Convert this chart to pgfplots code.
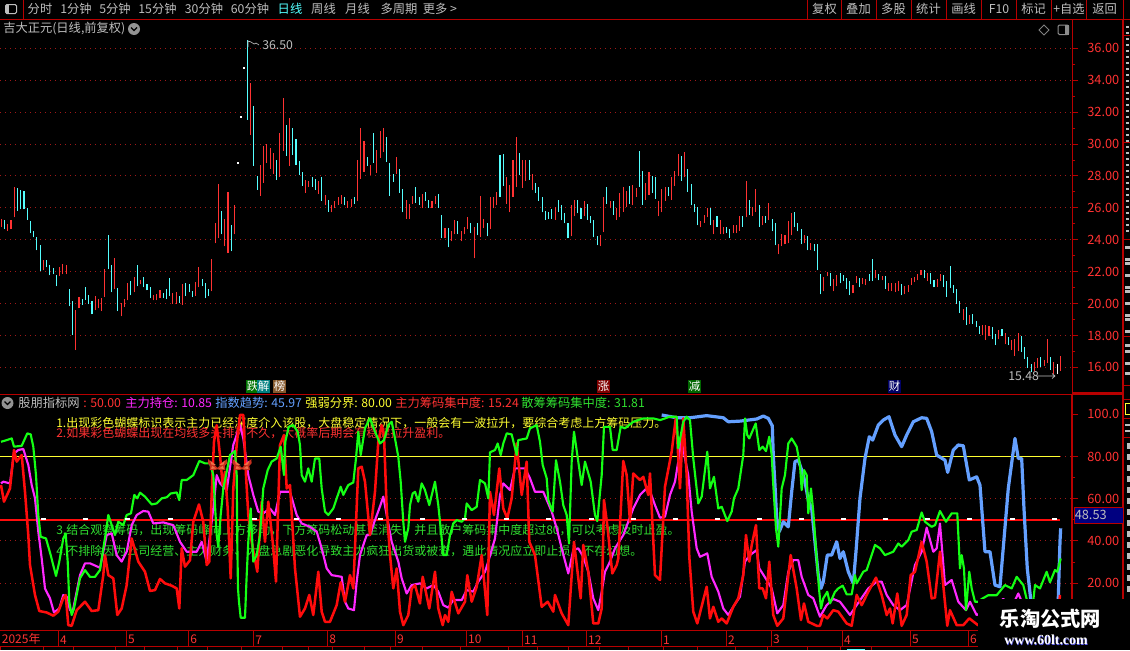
\documentclass[border=0pt]{standalone}
\usepackage{fontspec}
\usepackage{pgfplots}
\usepackage{pgfplotstable}
\pgfplotsset{compat=1.18}
\setmainfont{Noto Sans CJK SC}
\newfontfamily\logofont{Liberation Serif}

\definecolor{upred}{HTML}{FF3232}
\definecolor{chipred}{HTML}{FF0C0C}
\definecolor{downcyan}{HTML}{54FFFF}
\definecolor{axisred}{HTML}{B80000}
\definecolor{griddark}{HTML}{A01818}
\definecolor{txtgray}{HTML}{BEBEBE}
\definecolor{magline}{HTML}{FF28FF}
\definecolor{greenline}{HTML}{14FF14}
\definecolor{greentxt}{HTML}{30E030}
\definecolor{blueline}{HTML}{64A0FF}
\definecolor{yellowline}{HTML}{FFFF32}
\definecolor{wing}{HTML}{C8301E}
\definecolor{wingtip}{HTML}{F07048}

% c: 1 up, -1 down, 0 one-price day, 2 white bar
\pgfplotstableread{
c lo hi
1 24.77 25.33
-1 24.65 25.27
1 24.58 24.96
1 24.65 25.27
1 25.40 27.33
-1 25.83 27.27
-1 25.90 27.15
-1 25.90 27.08
-1 25.27 25.96
-1 24.40 25.20
-1 24.15 24.58
-1 23.33 24.15
-1 22.02 23.70
1 22.08 22.70
-1 22.27 22.70
-1 21.77 22.40
-1 21.83 22.20
-1 21.08 21.77
1 21.70 22.27
1 21.83 22.46
1 21.83 22.40
-1 19.83 20.90
-1 18.02 20.15
1 17.08 19.58
1 19.70 20.40
-1 19.90 20.27
-1 20.20 21.02
-1 19.96 20.52
-1 19.33 20.15
1 19.58 20.46
1 19.70 20.27
1 19.52 20.33
1 20.40 22.15
-1 22.15 24.27
-1 20.70 22.40
1 20.90 22.83
-1 19.52 20.96
1 19.20 20.02
1 19.77 20.27
1 20.20 21.27
-1 20.52 21.40
1 20.70 21.65
-1 21.08 22.40
1 21.20 21.46
-1 21.02 21.65
-1 20.83 21.20
-1 20.33 21.02
1 20.20 20.52
1 20.20 20.58
1 20.33 20.83
-1 20.33 20.65
-1 20.27 20.90
-1 20.46 21.58
1 19.96 20.65
1 19.96 20.70
-1 20.02 20.46
1 19.90 21.20
-1 20.46 21.27
-1 20.70 21.20
-1 20.40 20.77
1 20.46 21.33
1 21.02 22.27
-1 21.08 21.52
-1 20.33 21.27
-1 20.46 20.90
1 20.77 22.77
1 23.77 25.02
1 24.08 27.52
-1 24.33 25.83
1 23.58 25.33
1 23.20 27.02
-1 23.27 24.90
1 24.33 26.15
0 28.81 28.81
0 31.69 31.69
0 34.81 34.81
-1 31.52 36.50
1 30.58 33.81
-1 28.65 32.40
-1 27.15 28.02
1 26.77 28.71
1 27.58 29.90
1 28.81 30.02
1 28.46 29.75
1 28.15 29.46
-1 27.77 29.02
1 27.96 30.71
1 29.58 32.90
-1 29.27 31.21
1 28.65 31.65
-1 29.33 31.02
-1 28.71 30.33
-1 28.08 28.96
-1 27.40 28.27
1 26.96 27.77
1 27.33 27.71
-1 27.33 27.96
-1 27.15 27.83
1 26.90 27.71
-1 26.46 27.96
1 26.15 26.83
-1 25.77 26.52
1 25.71 26.20
1 26.02 26.46
1 26.20 26.71
1 26.27 26.83
-1 26.15 26.71
1 26.02 26.46
1 26.08 26.58
-1 26.27 26.71
1 26.40 29.02
1 27.83 31.02
1 28.27 30.20
-1 28.65 29.20
1 28.08 28.71
-1 28.83 30.71
1 28.20 29.65
1 29.15 30.83
1 29.52 31.02
-1 28.90 30.46
-1 26.77 28.83
-1 27.65 28.15
1 28.15 29.20
-1 26.96 28.46
-1 25.71 27.21
1 25.33 26.52
1 25.33 26.27
1 26.27 26.77
-1 26.33 27.33
-1 26.21 26.71
1 25.96 26.90
-1 26.46 27.02
-1 26.02 26.52
1 25.96 26.46
1 26.27 26.77
-1 26.02 26.90
-1 24.08 25.58
1 24.08 24.71
-1 23.52 24.71
1 23.90 24.58
1 24.33 25.21
-1 24.33 25.15
1 23.90 24.52
1 24.33 24.83
1 24.65 25.40
-1 24.40 25.08
1 22.83 24.83
-1 24.27 25.02
1 24.15 26.77
1 24.71 25.33
-1 24.21 25.08
1 24.65 26.65
1 25.96 26.71
1 26.15 27.02
-1 26.71 29.33
-1 27.40 29.40
1 26.27 27.96
1 25.71 27.46
1 26.71 29.02
1 27.33 30.46
-1 28.08 29.46
1 27.27 29.02
1 27.71 29.02
-1 27.77 29.02
1 27.15 28.15
-1 26.96 27.58
-1 26.46 27.33
-1 25.71 26.71
-1 25.27 25.83
-1 25.33 25.77
-1 25.33 25.90
1 25.27 26.08
-1 25.77 26.52
-1 25.21 26.15
-1 25.02 25.65
-1 24.08 25.08
1 24.21 26.21
1 25.46 26.52
-1 25.65 26.52
-1 25.33 25.96
1 25.46 26.40
-1 25.27 26.27
-1 25.02 25.52
-1 24.15 25.21
-1 23.65 24.21
1 23.58 24.27
1 24.46 26.65
-1 26.27 27.33
1 25.96 26.46
-1 25.58 26.46
1 25.27 26.02
1 25.40 26.96
1 25.77 27.33
1 26.08 27.08
-1 26.27 27.40
1 26.15 27.46
1 26.71 27.27
-1 27.33 29.58
-1 26.21 28.33
1 26.52 27.58
1 26.83 28.27
-1 26.96 28.02
-1 26.58 27.96
1 25.46 26.46
1 25.71 27.21
1 26.46 27.33
-1 26.77 27.33
1 26.52 27.96
1 27.40 28.33
1 28.02 29.40
-1 27.71 29.27
1 27.96 29.52
-1 27.02 28.46
-1 26.15 27.52
-1 25.71 26.27
-1 24.90 26.08
1 24.77 25.15
1 25.08 25.58
1 25.40 26.02
-1 24.90 25.96
1 24.33 25.27
-1 24.83 25.46
1 24.33 25.21
1 24.33 24.77
-1 24.40 24.83
-1 24.08 24.65
1 24.40 24.90
1 24.40 24.90
1 24.58 25.46
-1 24.83 25.52
1 25.40 27.71
-1 25.58 26.52
1 25.52 26.08
1 25.77 27.21
-1 24.83 26.21
1 24.90 25.46
-1 25.08 25.52
1 25.21 26.33
-1 24.52 25.33
-1 23.65 25.02
1 23.08 23.71
1 23.58 24.33
1 23.71 24.27
1 23.77 25.15
1 24.27 25.65
-1 24.83 25.71
-1 24.52 25.02
-1 23.71 24.65
1 23.77 24.27
-1 23.33 24.21
1 23.33 23.77
-1 23.27 23.71
-1 22.08 23.71
-1 20.58 21.83
1 20.77 21.65
1 21.71 21.96
-1 21.08 21.90
1 20.77 21.52
1 21.08 21.77
-1 21.27 21.90
-1 21.40 21.77
-1 20.90 21.58
-1 20.52 21.40
1 20.65 21.15
1 21.27 21.71
-1 21.02 21.58
1 21.21 21.58
1 21.15 21.52
-1 21.40 21.83
-1 21.40 22.77
1 21.58 22.08
-1 21.46 21.83
1 21.46 21.71
-1 20.90 21.71
1 20.77 21.27
1 20.77 21.27
1 20.71 21.27
1 20.77 21.40
-1 20.52 21.21
1 20.58 21.08
1 20.71 21.15
1 21.15 21.58
1 21.33 21.65
1 21.46 21.83
1 21.77 22.08
-1 21.58 22.08
1 21.40 21.90
-1 21.21 21.90
-1 21.02 21.46
1 21.02 21.52
1 21.40 21.83
-1 21.02 21.77
-1 20.40 21.40
-1 20.96 22.33
-1 20.65 21.15
-1 19.96 20.90
-1 19.40 20.15
1 18.96 19.65
-1 18.65 19.77
1 18.71 19.27
-1 18.71 19.33
-1 18.52 18.90
-1 18.08 18.58
1 18.00 18.65
1 17.71 18.65
1 17.96 18.58
-1 17.75 18.52
-1 17.40 18.08
1 17.75 18.33
-1 17.94 18.40
1 17.44 18.15
-1 17.40 17.88
1 17.10 17.69
1 16.71 17.75
1 17.00 18.15
-1 16.96 17.96
-1 16.52 17.27
-1 15.96 16.65
-1 15.69 16.20
1 15.75 16.33
1 15.96 16.58
-1 16.02 16.65
1 16.08 16.46
1 16.27 17.77
-1 15.83 16.65
1 15.58 16.33
2 15.58 16.20
1 15.77 16.71
}\candles

\newcommand\candlebars[2]{%
  \addplot[draw=none,no markers,forget plot,
    error bars/.cd,y dir=plus,y explicit,error mark=none,
    error bar style={draw=#2,line width=0.8pt}]
    table[x expr={\thisrow{c}==#1 ? \coordindex*3.2385+1.3 : nan},
      y=lo,y error plus expr=\thisrow{hi}-\thisrow{lo}] {\candles};
}

\newcommand\pp[2]{\pgfqpoint{#1pt}{#2pt}}
\pgfdeclareplotmark{butterfly}{%
  \pgfsetfillcolor{wing}%
  \pgfpathmoveto{\pp{0}{-2.5}}\pgfpathlineto{\pp{-7}{4.2}}\pgfpathlineto{\pp{-7.2}{1}}%
  \pgfpathlineto{\pp{-5.5}{-1}}\pgfpathlineto{\pp{-6}{-4.2}}\pgfpathlineto{\pp{-2}{-4}}%
  \pgfpathlineto{\pp{0}{-3.5}}\pgfpathlineto{\pp{2}{-4}}\pgfpathlineto{\pp{6}{-4.2}}%
  \pgfpathlineto{\pp{5.5}{-1}}\pgfpathlineto{\pp{7.2}{1}}\pgfpathlineto{\pp{7}{4.2}}%
  \pgfpathclose\pgfusepathqfill
  \pgfsetfillcolor{wingtip}%
  \pgfpathmoveto{\pp{-1}{-0.5}}\pgfpathlineto{\pp{-5.5}{3}}\pgfpathlineto{\pp{-4.5}{0}}\pgfpathclose
  \pgfpathmoveto{\pp{1}{-0.5}}\pgfpathlineto{\pp{5.5}{3}}\pgfpathlineto{\pp{4.5}{0}}\pgfpathclose
  \pgfpathmoveto{\pp{-1}{-3}}\pgfpathlineto{\pp{-4.8}{-3.2}}\pgfpathlineto{\pp{-4}{-1}}\pgfpathclose
  \pgfpathmoveto{\pp{1}{-3}}\pgfpathlineto{\pp{4.8}{-3.2}}\pgfpathlineto{\pp{4}{-1}}\pgfpathclose
  \pgfusepathqfill
}

\tikzset{
  t/.style={anchor=west,inner sep=0pt,font=\fontsize{9.2pt}{11pt}\selectfont},
  n/.style={anchor=west,inner sep=0pt,font=\fontsize{9pt}{11pt}\selectfont},
  c/.style={anchor=center,inner sep=0pt,text=txtgray,font=\fontsize{9.2pt}{11pt}\selectfont},
  badge/.style={anchor=center,inner sep=0pt,minimum width=9.6pt,minimum height=9.6pt,text=white,font=\fontsize{8.6pt}{9pt}\selectfont},
  lineplot/.style={line join=round,no markers,line width=#1},
  sep/.style={axisred,line width=0.75pt}
}
\pgfplotsset{
  panel/.style={
    scale only axis,
    xmin=0,xmax=1072.3,
    axis y line*=right,
    axis line style={axisred,line width=0.8pt},
    tick style={axisred,line width=0.75pt},
    tick align=outside,
    major tick length=4.5pt,minor tick length=2.25pt,
    ytick pos=right,
    ymajorgrids=true,
    grid style={griddark,line width=0.75pt,dash pattern=on 0.75pt off 3pt},
    yticklabel style={anchor=west,inner sep=0pt,xshift=6.6pt,text=upred,font=\fontsize{9.6pt}{11pt}\selectfont},
    clip=true,
  }
}

\begin{document}
\begin{tikzpicture}
\path[use as bounding box,fill=black] (0pt,0pt) rectangle (847.5pt,-487.5pt);

\begin{scope}[x=0.75pt,y=-0.75pt]
  % toolbar
  \draw[sep] (0,19.3)--(1130,19.3);
  \draw[sep] (23.5,0)--(23.5,19.3);
  \draw[txtgray,line width=0.75pt,rounded corners=1pt] (5.5,4.5) rectangle (16.5,13.5);
  \fill[txtgray] (5.5,4.5) rectangle (9,13.5);
  \node[c] at (40,9) {分时};
  \node[c] at (76,9) {1分钟};
  \node[c] at (115,9) {5分钟};
  \node[c] at (157.5,9) {15分钟};
  \node[c] at (204,9) {30分钟};
  \node[c] at (250,9) {60分钟};
  \node[c,text=downcyan] at (290,9) {日线};
  \node[c] at (323.5,9) {周线};
  \node[c] at (357.5,9) {月线};
  \node[c] at (399,9) {多周期};
  \node[c] at (440,9) {更多 >};
  \foreach \xp in {807.3,841.3,876.3,911.3,946.3,981.3,1016.3,1051.3,1086.3,1123}
    \draw[sep] (\xp,0)--(\xp,19.3);
  \node[c] at (824.5,9) {复权};
  \node[c] at (858.5,9) {叠加};
  \node[c] at (893.5,9) {多股};
  \node[c] at (928.5,9) {统计};
  \node[c] at (963.5,9) {画线};
  \node[c] at (999,9) {F10};
  \node[c] at (1033.5,9) {标记};
  \node[c] at (1069,9) {+自选};
  \node[c] at (1104.5,9) {返回};
  % upper panel heading
  \node[t,text=txtgray] at (3,29) {吉大正元(日线,前复权)};
  \fill[gray!85] (134,29) circle (6);
  \draw[black,line width=0.9pt] (131,27.5)--(134,30.5)--(137,27.5);
  \draw[gray,line width=0.6pt] (1044,25)--(1049,30)--(1044,35)--(1039,30)--cycle;
  \draw[gray!90,line width=0.75pt,rounded corners=1pt] (1058,25) rectangle (1068.5,34.5);
  \fill[gray!90] (1064.5,25) rectangle (1068.5,34.5);
  % lower panel heading
  \fill[gray!85] (7.5,403) circle (6);
  \draw[black,line width=0.9pt] (4.5,401.5)--(7.5,404.5)--(10.5,401.5);
  \node[t,text=txtgray] at (18,403) {股朋指标网};
  \node[t,text=upred] at (83,403) {: 50.00};
  \node[t,text=magline] at (125,403) {主力持仓: 10.85};
  \node[t,text=blueline] at (215,403) {指数趋势: 45.97};
  \node[t,text=yellowline] at (305,403) {强弱分界: 80.00};
  \node[t,text=upred] at (395,403) {主力筹码集中度: 15.24};
  \node[t,text=greentxt] at (521,403) {散筹筹码集中度: 31.81};
  % notes
  \node[n,text=yellowline] at (56,423) {1.出现彩色蝴蝶标识表示主力已经深度介入该股，大盘稳定情况下，一般会有一波拉升，要综合考虑上方筹码压力。};
  \node[n,text=upred] at (56,433) {2.如果彩色蝴蝶出现在均线多头排列不久，大概率后期会有稳健拉升盈利。};
  \node[n,text=greentxt] at (56,530) {3.结合观察筹码，出现筹码峰向上方移动，下方筹码松动甚至消失，并且散户筹码集中度超过80，可以考虑及时止盈。};
  \node[n,text=greentxt] at (56,551) {4.不排除因为公司经营、主力财务、大盘急剧恶化导致主力疯狂出货或被查，遇此情况应立即止损，不存幻想。};
  % event badges
  \node[badge,fill=green!45!black] at (252.5,386.5) {跌};
  \node[badge,fill=teal] at (263.5,386.5) {解};
  \node[badge,fill=brown!70!black] at (279.5,386.5) {榜};
  \node[badge,fill=red!50!black] at (603.5,386.5) {涨};
  \node[badge,fill=green!40!black] at (694.5,386.5) {减};
  \node[badge,fill=blue!40!black] at (894.5,386.5) {财};
\end{scope}

% price panel
\begin{axis}[panel,
  at={(0pt,-295.5pt)},anchor=south west,
  width=804.2pt,height=281.25pt,
  hide x axis,
  ymin=14.33,ymax=37.84,
  ytick={16,18,...,36},
  yticklabels={16.00,18.00,20.00,22.00,24.00,26.00,28.00,30.00,32.00,34.00,36.00},
  minor y tick num=1,
  unbounded coords=discard,
]
  \candlebars{1}{upred}
  \candlebars{-1}{downcyan}
  \candlebars{2}{white}
  \addplot[only marks,mark=square*,mark size=0.35pt,white,forget plot]
    table[x expr={\thisrow{c}==0 ? \coordindex*3.2385+1.3 : nan},y=lo] {\candles};
\end{axis}

% indicator panel
\begin{axis}[panel,
  at={(0pt,-472.9pt)},anchor=south west,
  width=804.2pt,height=177pt,
  axis x line*=bottom,
  xtick=\empty,
  minor xtick={18,36,76,93,110,143,160,206,224,240,271,290,308,345,362,378,413,431,449,484,502,540,558,604,622,640,678,710,744,756,789,807,825,860,878,895,928,946},
  ymin=-2.46,ymax=109.4,
  ytick={20,40,60,80},
  yticklabels={20.00,40.00,60.00,80.00},
  extra y ticks={100},
  extra y tick labels={100.0},
  extra y tick style={grid=none},
  minor y tick num=1,
]
  \addplot[yellowline,line width=1.05pt,forget plot] coordinates {(0,80) (1060,80)};
  \addplot[chipred,line width=1.05pt,forget plot] coordinates {(0,50) (1060,50)};

  % zhuli chicang
  \addplot[lineplot=1.6pt,magline] coordinates {
    (1,67.3)(3.3,68.1)(10,67.3)(14,81.5)(18.3,83.1)(23.3,83.6)(28.3,76)(31.7,66.5)(35,60.2)(38.3,44.4)(41.7,31.7)(45,17.5)
    (50,12.8)(54,6.1)(59.3,8)(63.3,14.4)(66.7,13.6)(70,7.2)(72.7,6.5)(76,14.4)(80,23.8)(85,29.4)(90,29.4)(100,27.3)(104,36.5)
    (106.7,42.8)(111.7,43.6)(116.7,33.3)(121.7,30.2)(126.7,34.9)(131.7,47.5)(136.7,52.3)(143.3,54.2)(148.3,53.9)(153.3,48.3)
    (163.3,48.8)(173.3,47.5)(180,39.6)(186.7,34.9)(196.7,34.9)(201.7,39.6)(206.7,30.2)(213.3,55.4)(216.7,71.2)(220,67.3)
    (226.7,64.1)(233.3,85.5)(240,94.9)(243.3,88.6)(248.3,71.2)(253.3,61.8)(258.3,53.9)(263.3,53.1)(270,55.4)(275,52.3)(280,63.3)
    (290,63.3)(296.7,52.3)(301.7,48.3)(310,46.7)(316.7,44.4)(321.7,36.5)(326.7,27)(331.7,23.8)(341.7,23)(345,11.2)(348.3,8)
    (354,7.2)(356.7,20.7)(360,33.3)(366.7,42.8)(370,42.8)(375,49.9)(379.3,55.4)(383.3,61)(386.7,52.3)(391.7,39.6)(398.3,30.2)
    (401.7,22.3)(406.7,15.1)(411.7,19.1)(420,19.9)(426.7,17.5)(433.3,19.1)(438.3,16)(443.3,9.6)(448.3,8.4)(453.3,12)(461.7,12)
    (466.7,16.7)(473.3,16)(478.3,20.7)(485,25.4)(488.3,30.2)(495,41.2)(500,61.8)(503.3,67.3)(510,64.1)(515,74.4)(525,74.4)
    (530,69.7)(535,63.3)(543.3,63.3)(551.7,53.9)(556.7,46)(561.7,36.5)(568.3,24.6)(573.3,35.7)(578.3,36.5)(583.3,32.5)(588.3,25.4)
    (593.3,12.8)(598.3,7.2)(601.7,15.9)(605,25.4)(610,30.2)(615,36.5)(623.3,42.8)(628.3,49.1)(633.3,55.4)(640,61.8)(648.3,65.7)
    (655,57)(660,51)(665,51.5)(670,61.8)(675,68.1)(678.3,77.6)(681.7,88.6)(685,79.1)(688.3,71.2)(691.7,53.9)(696.7,36.5)(700,32.5)
    (707.3,34.1)(711.7,23)(718.3,16)(723.3,8)(728.3,4.9)(733.3,8.8)(740,13.6)(745,30.2)(750,33.3)(756.7,35.7)(759.3,27)(766.7,21.5)
    (771.7,17.5)(777.3,5.7)(783.3,9.6)(788.3,25.4)(793.3,30.9)(798.3,30.9)(801.7,23)(808.3,14.4)(813.3,12.8)(820,4.1)(826.7,9.6)
    (833.3,12.5)(840,11.2)(850,4.9)(856.7,9.6)(868.3,17.5)(876.7,20.7)(881.7,20.7)(886.7,14.4)(893.3,9.6)(900,7.2)(906.7,9.6)
    (915,28.6)(921.7,34.9)(926.7,46.3)(933.3,34.9)(936.7,36.5)(940,48.3)(945,19.1)(951.7,21.5)(958.3,11.2)(966,7.2)(970,11.2)
    (976.7,4.9)(990,8)(1003.3,12.5)(1011.7,8.6)(1018.3,15.1)(1023.3,9.6)(1040,8)(1056.7,4.9)
  };
  % zhishu qushi
  \addplot[lineplot=2.4pt,blueline] coordinates {
    (661.7,99.7)(676.7,98.4)(690,98.4)(706.7,99.4)(723.3,98.4)(728.3,96.5)(740,96.8)(748.3,97.3)(756.7,97.8)(763.3,99.2)(768.3,98.1)
    (772.3,94.6)(773.3,80.7)(775,66.5)(776.7,50.7)(779.3,44.4)(783.3,49.1)(788.3,46.7)(791.7,63.3)(795,77.6)(798.3,78.3)(801.7,73.6)
    (805,68.1)(808.3,59.4)(811.7,55.4)(815,39.6)(818.3,23.8)(821,17.5)(823.3,20.7)(827.3,33.3)(831.7,33.3)(836.7,39.6)(840,31.7)
    (843.3,34.9)(848.3,25.4)(853.3,19.9)(856,34.9)(860,60.2)(865,79.1)(869.3,89.4)(872.7,87.8)(878.3,94.9)(883.3,97.3)(889,98.9)
    (895,90.2)(901.7,84.7)(906.7,90.2)(913.3,96.5)(921.7,98.4)(926.7,98.1)(931.7,91.8)(936.7,80.7)(945,78.3)(947.7,72.5)(953.3,83.1)
    (958.3,85.5)(963.3,85.1)(969.3,68.9)(976.7,70.4)(980,66.5)(985,34.9)(990,34.9)(995,19.1)(1000,18.3)(1008.3,64.9)(1015,88.6)
    (1018.3,79.1)(1021.7,79.1)(1024,55.4)(1027.3,27)(1030.7,12.5)(1035,0.9)(1056.7,1.7)(1058.3,12.5)(1060,39.6)(1060.7,46)
  };
  % zhuli chouma jizhongdu
  \addplot[lineplot=1.9pt,chipred] coordinates {
    (1,66.5)(4,58.6)(10,64.9)(14,83.1)(16.7,77.6)(21.7,80.7)(25,63.3)(28.3,42.8)(30,28.6)(35,14.4)(39.3,6.8)(46.7,6.1)(53.3,4.6)
    (58.3,6.5)(63.3,12.8)(65.7,14.4)(68.3,0.1)(71.7,-0.2)(76.7,7.2)(85,11.2)(91.7,6.8)(98.3,7.2)(103.3,23.8)(105,33.3)(108.3,23.8)
    (113.3,22.3)(117.3,4.9)(121.7,8)(126.7,19.1)(131.7,41.2)(138.3,30.2)(145,25.4)(150,16.3)(155,16.7)(160,22)(165,19.9)(171.7,18.8)
    (176.7,17.5)(179.3,8)(181.7,36.5)(185,27.8)(190,30.9)(193.3,49.1)(199,57.3)(203.3,49.1)(206.7,28.6)(209.3,30.2)(212.3,69.7)
    (214,87)(216.7,94.9)(220,80.7)(222.7,66.5)(225,72.8)(227.7,55.4)(230.7,22.3)(233.3,64.9)(236.7,85.5)(240,99.7)(243.3,99.7)
    (246,71.2)(248.3,52.3)(251.7,39.6)(257.3,25.4)(261.7,58.6)(265,39.6)(268.3,58.6)(272.7,39.6)(276,20.7)(280,85.5)(284,90.2)
    (286.7,64.9)(290,66.5)(295,27)(300,4.1)(305,8)(309.3,14.4)(313.3,4.9)(318.3,25.4)(321.7,6.5)(325,1.7)(330,1.7)(336.7,9.6)
    (340.7,20.4)(345,11.2)(350,23.8)(353.3,17.5)(358.3,74.4)(361.7,75.2)(365,68.1)(370,42.8)(375,63.3)(378.3,87)(381.7,94.9)
    (384,90.2)(386.7,55.4)(390,33.3)(393.3,17.5)(396.7,27)(400,6.5)(403.3,0.1)(408.3,4.9)(411.7,17.5)(415,19.1)(420,10.4)(422.7,23)
    (429.3,8)(435,25.4)(438.3,8)(442.7,0.1)(445,4.9)(448.3,1.7)(451.7,15.9)(458.3,5.7)(465,11.2)(467.3,23.8)(471.7,11.2)(476.7,18.3)
    (481.7,33.3)(487.3,4.9)(490,63.3)(494,52.3)(499.3,74.4)(503.3,55.4)(507.3,50.7)(511.7,60.2)(516.7,86.2)(521.7,61.8)(526.7,77.6)
    (529.3,39.6)(535,33.3)(541.7,8.8)(547.7,11.2)(553.3,6.5)(555,14.4)(561.7,5.7)(568.3,0.1)(574,39.6)(580.7,12.8)(583.3,38.1)
    (588.3,25.4)(593.3,0.9)(598.3,0.9)(601.7,8)(604,59.4)(607.3,47.5)(612.3,24.6)(616.7,28.6)(618.3,31.7)(623.3,77.9)(626.7,71.2)
    (630,49.1)(633.3,72)(640,68.9)(643.3,70.4)(648.3,61.8)(650,72)(655,23.8)(660,21.5)(665,65.7)(671.7,82.3)(676,98.9)(680,64.9)
    (683.3,98.1)(686.7,71.2)(689.3,32.5)(693.3,6.5)(697.3,0.9)(706.7,18.3)(710,3.3)(713.3,8.8)(718.3,1.7)(721.7,3.3)(726.7,0.9)
    (733.3,8.8)(738.3,12.8)(743.3,23.8)(746,42.8)(749.3,30.2)(751.7,38)(756,47.5)(759.3,17.5)(762.7,17.5)(766,12.8)(769.3,30.2)
    (773.3,4.9)(777.3,-0.2)(783.3,3.3)(790.7,33.3)(796.7,17.5)(801,2.5)(804,10.4)(808.3,1.7)(816.7,-0.2)(820,-0.2)(823.3,4.9)
    (827.3,3.3)(833.3,7.2)(838.3,6.5)(846.7,0.9)(851.7,-0.2)(856.7,14.4)(861.7,9.6)(868.3,15.9)(876,22.6)(881.7,14.4)(886.7,4.9)
    (890,8)(892.7,0.9)(897.3,15.1)(901.7,-0.2)(906.7,4.9)(910.7,23.8)(915,25.4)(921.7,39.6)(926.7,30.2)(931.7,12.8)(935,13.1)
    (940,34.9)(947.3,-0.2)(950,7.2)(956.7,0.1)(963.3,0.1)(969.3,3.3)(978,0.1)(1006.7,0.1)(1023.3,4.9)(1040,1.7)(1058.3,4.9)(1060,14.4)
  };
  % sanchou chouma jizhongdu
  \addplot[lineplot=1.6pt,greenline] coordinates {
    (1,87)(6.7,87.8)(11.7,88.6)(14,84.7)(21.7,85.1)(27.3,91)(30.7,90.5)(33.3,84.7)(36,71.2)(38.3,52.3)(40.7,42)(46,41.2)(50.7,33.3)
    (56,23.4)(59.3,30.2)(63.3,41.2)(65.7,43.6)(67.7,30.2)(69.3,11.2)(71.7,4.9)(74,8)(77.3,16)(80,22.3)(85,26.2)(90,23)(95,23)
    (100,26.2)(103.3,36.5)(106,44.4)(108.3,52.3)(111.7,47.5)(115,42.8)(118.3,49.1)(123.3,47.5)(126.7,52.3)(131,53.1)(134.3,61.8)
    (137.3,60.2)(140,62.9)(145,61)(151.7,57.3)(156.7,57.8)(161.7,60.2)(166.7,60.7)(170.7,62.5)(176.7,63)(179.3,59.4)(181.7,68.9)
    (186.7,68.9)(193.3,71.2)(199.3,77.9)(205,76.8)(210,76.8)(213.3,71.2)(216.7,42.8)(218.3,37.3)(220.7,52.3)(223.3,64.9)(226.7,72.8)
    (230,80.7)(235,82.6)(236.7,71.2)(237.3,39.6)(238,17.5)(239,11.2)(240.7,3.6)(245,3.6)(246.7,23.8)(248.3,39.6)(250.7,55.4)(253.3,30.2)
    (256.7,33.3)(260,42.8)(263.3,64.9)(267.7,73.6)(271.7,77.6)(276.7,79.1)(280.7,84.7)(284,71.2)(285.3,87)(288.7,94.1)(293.3,94.9)
    (297.7,91.8)(300,85.5)(301.7,71.2)(305,68.1)(308.3,74.4)(311.7,68.1)(315,79.1)(319.3,79.1)(321.7,64.9)(325,53.9)(328.3,52.3)
    (333.3,55.4)(340.7,65.7)(343.3,61.8)(348.3,66.5)(353.3,67.7)(356,79.1)(358.3,91.8)(360.7,80.7)(365,93.4)(370,98.1)(375,91.8)
    (380,86.2)(384,87.8)(388.3,94.9)(391.7,96.5)(395,88.6)(398.3,79.9)(400.7,68.1)(403.3,49.1)(405,39.6)(408.3,46)(410,57)(412.7,62.5)
    (415,63.3)(418.3,58.6)(421.7,67.3)(425,64.1)(429.3,57)(435,68.1)(438.3,57)(440.7,46)(443.3,33.3)(446.7,33.3)(450,42.8)(453.3,48.3)
    (456.7,49.9)(461.7,49.1)(465,50.7)(466.7,57.8)(471.7,54.6)(476.7,56.2)(480,68.9)(485,67.3)(488.3,60.2)(490,82)(495,83.1)(497.7,86.2)
    (500.7,80.7)(503.3,86.2)(506.7,91)(511.7,90.5)(516.7,80.7)(518.3,87.8)(526.7,88.6)(530,93.4)(536.7,94.9)(540,87)(542.7,76)(546.7,69.7)
    (548.3,59.4)(552.7,53.9)(556,78.3)(560,68.1)(563.3,57)(566.7,52.3)(569,38.8)(571.7,77.6)(574,91.8)(578.3,77.6)(581.7,66.5)(585,77.6)
    (590.7,68.1)(595,52.3)(597.3,49.4)(601.7,71.2)(604,94.1)(610,94.1)(612.7,83.1)(616.7,83.1)(620.7,94.1)(625,93.4)(633.3,96.5)
    (643.3,98.1)(653.3,98.1)(660,97.3)(670,98.9)(676.7,98.9)(678.3,83.9)(683.3,96.5)(686.7,98.9)(690,97.3)(693.3,79.1)(698.3,57.8)
    (701.7,61)(707.3,82.3)(710,64.9)(714,70.4)(718.3,55.4)(721.7,56.2)(727.3,49.4)(731.7,53.9)(734,60.2)(738.3,64.9)(743.3,80.7)
    (745,98.1)(747.3,90.2)(749.3,88.6)(755.7,95.7)(759.3,83.1)(762.7,84.7)(766,82.6)(769.3,89.4)(771.7,80.7)(773.3,66.5)(776,46)
    (778.3,37.3)(781.7,64.9)(785,71.2)(788.3,86.2)(791.7,88.6)(796.7,84.7)(800,76)(801.7,64.1)(804,73.6)(806.7,71.2)(808.3,53.1)
    (811,64.9)(813.3,53.9)(816.7,31.7)(819,17.5)(821,8)(823.3,12.8)(827.3,15.9)(830,10.4)(835,15.9)(838.3,17.5)(842.7,18.8)(846.7,14.7)
    (851.7,14.7)(855,23.8)(856.7,19.9)(863.3,25.4)(866.7,26.2)(875,38.1)(880,36.5)(885,33.3)(893.3,34.9)(898.3,38.8)(901.7,37.3)
    (908.3,40.4)(911.7,44.4)(916.7,45.2)(921.7,53.5)(925,49.1)(931.7,46.7)(935,47.5)(940,54.2)(946,49.1)(951.7,53.1)(957.3,53.1)
    (960,27)(961.7,33.3)(964,27)(966,7.2)(969.3,25.4)(971.7,17.5)(975,11.2)(978.3,11.2)(981.7,12.5)(988.3,14.3)(996.7,14.3)(1005,19.1)
    (1011.7,17.5)(1016.7,23)(1023.3,19.1)(1026.7,12.5)(1031.7,4.9)(1035,19.1)(1040,17.5)(1046.7,25.4)(1050,20.4)(1055,26.2)(1057.3,25.4)(1060.7,31.7)
  };
  % white dashes on the 50 line
  \addplot[only marks,mark=-,mark size=1.9pt,white,line width=1.6pt,forget plot] coordinates {
    (43.3,50.4)(85.3,50.4)(127.3,50.4)(170.3,50.4)(254.3,50.4)(296.3,50.4)(338.3,50.4)(380.7,50.4)(422.3,50.4)(464.3,50.4)(506.3,50.4)
    (548.3,50.4)(591.3,50.4)(633.3,50.4)(675.3,50.4)(717.3,50.4)(759.3,50.4)(801.3,50.4)(843.3,50.4)(885.3,50.4)(927.3,50.4)(969.3,50.4)(1012.3,50.4)(1054.3,50.4)
  };
  % butterflies
  \addplot[only marks,mark=butterfly,forget plot] coordinates {(217.5,76.2)(242,76.2)};
\end{axis}

% date strip
\begin{axis}[scale only axis,
  at={(0pt,-484.5pt)},anchor=south west,
  width=733.7pt,height=12pt,
  xmin=0,xmax=978.3,ymin=0,ymax=1,
  axis y line=none,
  axis x line=box,
  axis line style={axisred,line width=0.75pt},
  xtick pos=bottom,
  tick align=inside,
  major tick length=12pt,
  tick style={axisred,line width=0.75pt},
  xtick={58.3,126.3,188.6,253.6,327.6,395.3,466.3,522.3,586.3,661.3,726.3,771.3,842.3,910.3,968.3},
  xticklabels={4,5,6,7,8,9,10,11,12,1,2,3,4,5,6},
  xticklabel style={anchor=south west,inner sep=0pt,xshift=1.2pt,yshift=1.2pt,text=upred,font=\fontsize{9pt}{11pt}\selectfont},
]
  \node[anchor=south west,inner sep=0pt,xshift=1.2pt,yshift=1.2pt,text=upred,font=\fontsize{9pt}{11pt}\selectfont] at (axis cs:0,0) {2025年};
\end{axis}

\begin{scope}[x=0.75pt,y=-0.75pt]
  % panel rules and right column
  \draw[sep] (0,394.3)--(1123,394.3);
  \draw[axisred,line width=1.5pt] (1072.3,392.5)--(1123,392.5);
  \draw[axisred,line width=1.5pt] (1072.3,394)--(1072.3,600);
  \draw[axisred,line width=1.2pt] (1123,19)--(1123,600);
  % indicator last value
  \node[anchor=west,inner sep=0pt,minimum width=36.5pt,minimum height=11.5pt,fill=blue!50!black,draw=axisred,line width=0.6pt] at (1074,515.3) {};
  \node[t,text=txtgray,font=\fontsize{9.6pt}{11pt}\selectfont] at (1074.5,515.3) {48.53};
  % price extremes
  \node[t,text=txtgray] at (262,45.5) {36.50};
  \draw[txtgray,line width=0.5pt] (248,47)--(248,41)--(251,42)--(254,44)--(256,43)--(259,45);
  \node[t,text=txtgray] at (1008,376.5) {15.48};
  \draw[txtgray,line width=0.5pt] (1037,376)--(1055,376) (1052,373.5)--(1055,376)--(1052,378.5);
  % clipped side column, only its left edge shows
  \foreach \yp in {26,32,38,44,50,56,62,68,74,80,86,92,98,104,110,116,122,128,134,140,146,152,158,164,170,176,182,188,194,200,206,212,218,224,230}
    \fill[txtgray] (1125.5,\yp) rectangle (1129,\yp+1.5);
  \foreach \yp in {246,258,262,274,286,290,302,314,318,330,344,350,362,372}
    \fill[txtgray] (1125,\yp) rectangle (1130,\yp+2.5);
  \draw[yellowline,line width=0.6pt] (1125,403) rectangle (1130,414);
  \foreach \yp in {424,430}
    \fill[txtgray] (1125,\yp) rectangle (1130,\yp+1.5);
  \foreach \yp in {446,457,468,479,490,501,512,523,534,545,556,567,578,589}
    \fill[txtgray] (1126.5,\yp-3) rectangle (1130,\yp+3);
  \foreach \yp in {35.7,142.3,239.3,336,385,399,418,437}
    \draw[sep] (1123,\yp)--(1130,\yp);
  % bottom row stubs
  \foreach \xp in {0,43,73,115,144,177,207,241,282,308,332,364,390,422,460,508,537,568,599,628,663,697,735,767,807,840,871}
    \draw[sep] (\xp,646)--(\xp,650);
  \fill[downcyan] (847,649) rectangle (865,650);
  % site logo
  \fill[black] (978,599) rectangle (1130,650);
  \node[inner sep=0pt,text=white,font=\fontsize{15.2pt}{17pt}\selectfont\bfseries] at (1050.5,618.5) {乐淘公式网};
  \node[inner sep=0pt,text=blue!60!white,font=\fontsize{10.4pt}{12pt}\selectfont\logofont\bfseries] at (1046.5,640.5) {www.60lt.com};
  \node[inner sep=0pt,text=white,font=\fontsize{10.4pt}{12pt}\selectfont\logofont\bfseries] at (1046,640) {www.60lt.com};
\end{scope}
\end{tikzpicture}
\end{document}
